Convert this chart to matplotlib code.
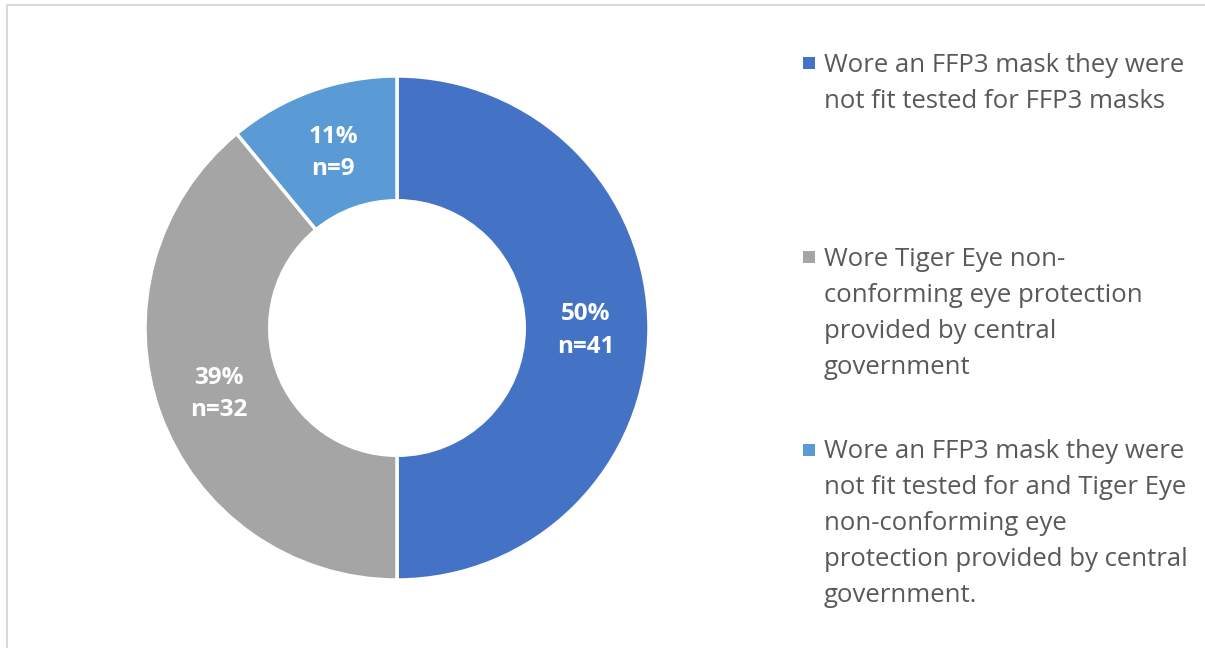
import numpy as np
import matplotlib
matplotlib.use("Agg")
import matplotlib.pyplot as plt
from matplotlib.patches import Rectangle
from matplotlib.lines import Line2D

W, H = 1205, 648

labels = [
    "Wore an FFP3 mask they were\nnot fit tested for FFP3 masks",
    "Wore Tiger Eye non-\nconforming eye protection\nprovided by central\ngovernment",
    "Wore an FFP3 mask they were\nnot fit tested for and Tiger Eye\nnon-conforming eye\nprotection provided by central\ngovernment.",
]
counts = [41, 32, 9]
colors = ["#4472C4", "#A5A5A5", "#5B9BD5"]

plt.rcParams["font.family"] = ["Open Sans", "DejaVu Sans"]

fig = plt.figure(figsize=(W / 100, H / 100), dpi=100)
fig.patch.set_facecolor("white")


def px(x, y):
    """pixel (from top-left) -> figure fraction"""
    return x / W, 1 - y / H


# chart frame (only top and left edge visible in the crop)
fig.add_artist(Line2D([7 / W, 1.0], [1 - 5 / H, 1 - 5 / H], color="#D9D9D9", lw=1.5))
fig.add_artist(Line2D([7 / W, 7 / W], [0, 1 - 5 / H], color="#D9D9D9", lw=1.5))

# donut
cx, cy, r = 397, 328, 252
ax = fig.add_axes([(cx - r) / W, (H - cy - r) / H, 2 * r / W, 2 * r / H])
wedges, _ = ax.pie(counts, colors=colors, startangle=90, counterclock=False,
                   radius=1.0,
                   wedgeprops=dict(width=0.495, edgecolor="white", linewidth=2.5))
ax.set_xlim(-1, 1)
ax.set_ylim(-1, 1)
ax.set_aspect("equal")
ax.axis("off")

total = sum(counts)
for w, n in zip(wedges, counts):
    mid = np.deg2rad((w.theta1 + w.theta2) / 2)
    ax.text(0.75 * np.cos(mid), 0.75 * np.sin(mid) - 0.01,
            f"{round(100 * n / total)}%\nn={n}",
            ha="center", va="center", color="white", fontsize=17.5,
            fontweight="bold", linespacing=1.45)

# legend, drawn line by line
starts = [63, 257, 450]
step = 36
for lab, col, y0 in zip(labels, colors, starts):
    x, y = px(803, y0 - 6)
    fig.add_artist(Rectangle((x, y - 12 / H), 12 / W, 12 / H, facecolor=col,
                             edgecolor="none", transform=fig.transFigure))
    for i, line in enumerate(lab.split("\n")):
        tx, ty = px(824, y0 + 2 + i * step)
        fig.text(tx, ty, line, ha="left", va="center", fontsize=18.5,
                 color="#595959")

fig.savefig("out.png", dpi=100, facecolor="white")
